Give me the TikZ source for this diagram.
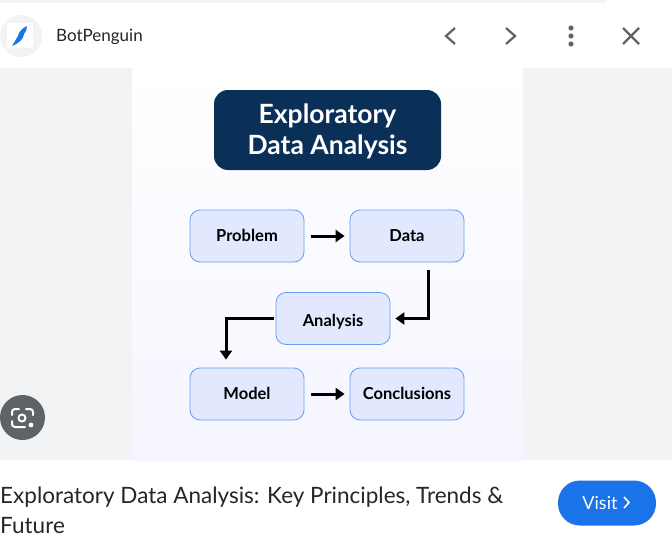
\documentclass[tikz,border=0pt]{standalone}
\usepackage{fontspec}
\setmainfont{Lato}
\usepackage{xcolor}
\usetikzlibrary{arrows.meta,calc,positioning}
\definecolor{panelgray}{HTML}{F1F3F4}
\definecolor{titlenavy}{HTML}{0B3058}
\definecolor{boxfill}{HTML}{E2E9FE}
\definecolor{boxline}{HTML}{64A0F5}
\definecolor{iconblue}{HTML}{1A73E8}
\definecolor{icongray}{HTML}{5F6368}

\begin{document}
\begin{tikzpicture}[
    x=1pt, y=-1pt,
    stepbox/.style={rectangle, draw=boxline, line width=0.8pt, fill=boxfill, rounded corners=10pt, minimum width=114pt, minimum height=52pt, inner sep=1pt, text height=12pt, text depth=1pt, font=\fontsize{16.5}{18}\selectfont\bfseries, text=black},
    flowarrow/.style={draw=black, line width=3pt, -{Triangle[length=9pt,width=12pt]}},
    chevron/.style={draw=icongray, line width=2.2pt}
]
\useasboundingbox (0,0) rectangle (672,543);
\fill[white] (0,0) rectangle (672,543);
\fill[panelgray] (0,0) rectangle (605,3);
\fill[panelgray] (0,68) rectangle (672,460);
\shade[top color=white, bottom color=blue!4!white] (132,68) rectangle (523,460);

\node[circle, fill=panelgray, minimum size=42pt, inner sep=0pt] (logocircle) at (21,36) {};
\fill[white, rounded corners=2pt] (7,23) rectangle (33,48);
\fill[iconblue] (27,26) .. controls (21,29) and (19,32) .. (18,36) .. controls (16,39) and (14,43) .. (12,46) .. controls (18,44) and (24,39) .. (24,34) .. controls (26,32) and (27,29) .. (27,26) -- cycle;
\node[anchor=base west, inner sep=0pt, font=\fontsize{17}{20}\selectfont, text=black!85] (brand) at (56,41.5) {BotPenguin};

\draw[chevron] (455,28) -- (446,36) -- (455,44);
\draw[chevron] (506,28) -- (515,36) -- (506,44);
\fill[icongray] (571,28) circle (2.6) (571,36) circle (2.6) (571,44) circle (2.6);
\draw[chevron] (623,28) -- (639,44) (639,28) -- (623,44);

\node[rectangle, fill=titlenavy, rounded corners=14pt, minimum width=227pt, minimum height=80pt] (title) at (327.5,130) {};
\node[align=center, text=white, font=\fontsize{26.5}{31}\selectfont\bfseries] (titletext) at (327.5,131) {Exploratory\\Data Analysis};

\node[stepbox] (problem) at (247,236) {Problem};
\node[stepbox] (data) at (407,236) {Data};
\node[stepbox, text height=16pt, text depth=0pt] (analysis) at (333,318.5) {Analysis};
\node[stepbox] (model) at (247,394) {Model};
\node[stepbox] (conclusions) at (407,394) {Conclusions};

\draw[flowarrow, shorten <=7pt, shorten >=5pt] (problem) -- (data);
\draw[flowarrow, shorten <=8pt, shorten >=5pt] ([xshift=21pt]data.south) |- (analysis.east);
\draw[flowarrow, shorten <=2pt, shorten >=8pt] (analysis.west) -| ([xshift=-21pt]model.north);
\draw[flowarrow, shorten <=7pt, shorten >=5pt] (model) -- (conclusions);

\node[circle, fill=icongray, minimum size=45pt, inner sep=0pt] (lensbutton) at (22.5,417.5) {};
\draw[white, line width=2pt, line cap=round, rounded corners=3pt] (12,415) -- (12,409) -- (19,409);
\draw[white, line width=2pt, line cap=round, rounded corners=3pt] (26,409) -- (33,409) -- (33,415);
\draw[white, line width=2pt, line cap=round, rounded corners=3pt] (12,421) -- (12,427) -- (25,427);
\draw[white, line width=2pt] (22,418) circle (3.5);
\fill[white] (31,425) circle (2.4);

\node[anchor=base west, inner sep=0pt, font=\fontsize{22.5}{22}\selectfont, text=black!85] (captionone) at (0,503) {Exploratory Data Analysis: Key Principles, Trends \&};
\node[anchor=base west, inner sep=0pt, font=\fontsize{22.5}{22}\selectfont, text=black!85] (captiontwo) at (0,533) {Future};
\node[rectangle, fill=iconblue, rounded corners=22pt, minimum width=98pt, minimum height=45pt, inner sep=0pt, text=white, font=\fontsize{18}{20}\selectfont] (visit) at (607,503) {Visit\hspace*{14pt}};
\draw[white, line width=1.6pt] (624,497) -- (629,502.5) -- (624,508);
\end{tikzpicture}
\end{document}
